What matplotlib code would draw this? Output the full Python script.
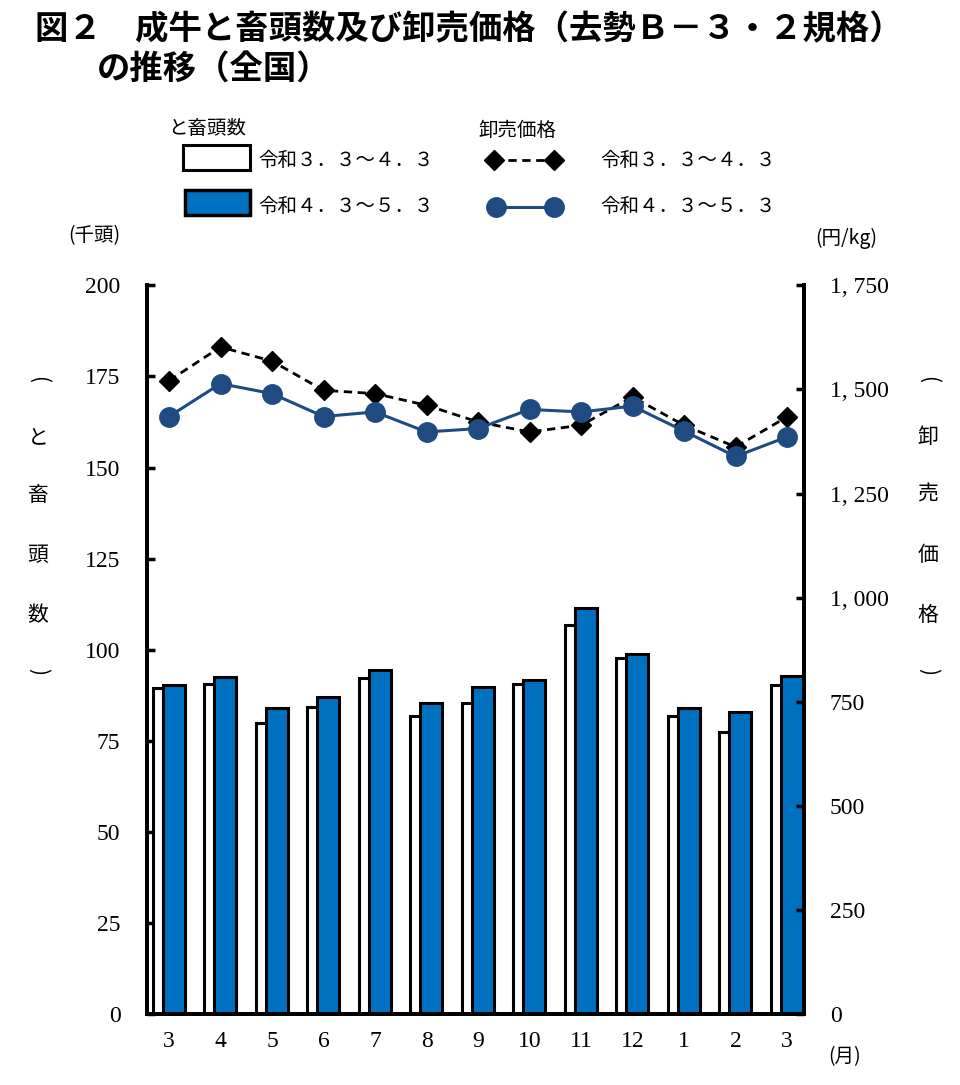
import matplotlib
matplotlib.use("Agg")
import matplotlib.pyplot as plt
import numpy as np
from matplotlib.patches import Rectangle
from matplotlib.lines import Line2D

plt.rcParams['font.family'] = ['Liberation Serif', 'Noto Sans CJK JP']
jp = ['Noto Sans CJK JP', 'DejaVu Sans']

months = ["3", "4", "5", "6", "7", "8", "9", "10", "11", "12", "1", "2", "3"]
heads_prev = [89.5, 90.7, 79.8, 84.2, 92.2, 81.9, 85.4, 90.6, 106.8, 97.6, 81.7, 77.5, 90.4]
heads_cur = [90.3, 92.6, 84.0, 87.1, 94.3, 85.5, 89.8, 91.7, 111.4, 98.7, 84.0, 83.0, 92.7]
price_prev = [1521, 1602, 1568, 1498, 1490, 1462, 1422, 1398, 1414, 1482, 1414, 1362, 1434]
price_cur = [1435, 1514, 1490, 1435, 1446, 1398, 1406, 1452, 1446, 1460, 1400, 1339, 1386]

label_prev = "令和３．３～４．３"
label_cur = "令和４．３～５．３"

blue = "#0070C0"
navy = "#1F4B82"

fig = plt.figure(figsize=(9.6, 10.85), dpi=100)
ax = fig.add_axes([0.153, 0.0654, 0.684, 0.6716])
x = np.arange(len(months))

ax.bar(x - 0.12, heads_prev, width=0.40, color="white", edgecolor="black", linewidth=2.2, zorder=2)
ax.bar(x + 0.09, heads_cur, width=0.43, color=blue, edgecolor="black", linewidth=2.2, zorder=3)

ax.set_xlim(-0.43, 12.32)
ax.set_ylim(0, 200)
ax.set_yticks(np.arange(0, 201, 25))
ax.set_xticks(x)
ax.set_xticklabels(months)
ax.tick_params(axis="x", length=0, labelsize=17, pad=12)
ax.tick_params(axis="y", direction="in", length=6, width=2.5, labelsize=17, pad=19)
for s in ["left", "right", "bottom"]:
    ax.spines[s].set_linewidth(2.8)
ax.spines["top"].set_visible(False)

ax2 = ax.twinx()
ax2.plot(x, price_prev, color="black", linestyle=(0, (3, 2)), linewidth=2.0,
         marker="D", markersize=10, zorder=4)
ax2.plot(x, price_cur, color=navy, linestyle="-", linewidth=2.2,
         marker="o", markersize=14, zorder=5)
ax2.set_ylim(0, 1750)
ax2.set_yticks(np.arange(0, 1751, 250))
ax2.set_yticklabels(["0", "250", "500", "750", "1, 000", "1, 250", "1, 500", "1, 750"])
ax2.tick_params(axis="y", direction="in", length=6, width=2.5, labelsize=17, pad=19)
for s in ["left", "right", "bottom"]:
    ax2.spines[s].set_linewidth(2.8)
ax2.spines["top"].set_visible(False)

W, H = 960, 1085


def fx(px):
    return px / W


def fy(py):
    return 1 - py / H


# title
fig.text(fx(35), fy(30), "図２　成牛と畜頭数及び卸売価格（去勢Ｂ－３・２規格）",
         family=jp, fontsize=24, fontweight="bold", va="center", ha="left")
fig.text(fx(97), fy(70), "の推移（全国）",
         family=jp, fontsize=24, fontweight="bold", va="center", ha="left")

# legend
fig.text(fx(168), fy(128), "と畜頭数", family=jp, fontsize=14, va="center")
fig.text(fx(478), fy(130), "卸売価格", family=jp, fontsize=14, va="center")
fig.patches.append(Rectangle((fx(183), fy(170)), fx(250) - fx(183), fy(145) - fy(170),
                             transform=fig.transFigure, facecolor="white",
                             edgecolor="black", linewidth=2.2))
fig.patches.append(Rectangle((fx(185), fy(215)), fx(250) - fx(185), fy(190) - fy(215),
                             transform=fig.transFigure, facecolor=blue,
                             edgecolor="black", linewidth=2.5))
fig.text(fx(258), fy(160), label_prev, family=jp, fontsize=14, va="center")
fig.text(fx(258), fy(207), label_cur, family=jp, fontsize=14, va="center")
fig.lines.append(Line2D([fx(494), fx(554)], [fy(160), fy(160)], transform=fig.transFigure,
                        color="black", linestyle=(0, (3, 2)), linewidth=2.0,
                        marker="D", markersize=10))
fig.lines.append(Line2D([fx(496), fx(554)], [fy(207), fy(207)], transform=fig.transFigure,
                        color=navy, linewidth=2.2, marker="o", markersize=14))
fig.text(fx(600), fy(160), label_prev, family=jp, fontsize=14, va="center")
fig.text(fx(600), fy(207), label_cur, family=jp, fontsize=14, va="center")

# unit labels
fig.text(fx(68), fy(236), "(千頭)", family=jp, fontsize=14, va="center")
fig.text(fx(815), fy(238), "(円/kg)", family=jp, fontsize=14, va="center")
fig.text(fx(828), fy(1057), "(月)", family=jp, fontsize=14, va="center")

# vertical axis titles
left_chars = ["(", "と", "畜", "頭", "数", ")"]
right_chars = ["(", "卸", "売", "価", "格", ")"]
ys = [380, 437, 495, 555, 615, 672]
for ch, yy in zip(left_chars, ys):
    rot = -90 if ch in "()" else 0
    fig.text(fx(38), fy(yy), ch, family=jp, fontsize=15, ha="center", va="center",
             rotation=rot)
for ch, yy in zip(right_chars, ys):
    rot = -90 if ch in "()" else 0
    fig.text(fx(928), fy(yy), ch, family=jp, fontsize=15, ha="center", va="center",
             rotation=rot)

fig.savefig("out.png", dpi=100)
